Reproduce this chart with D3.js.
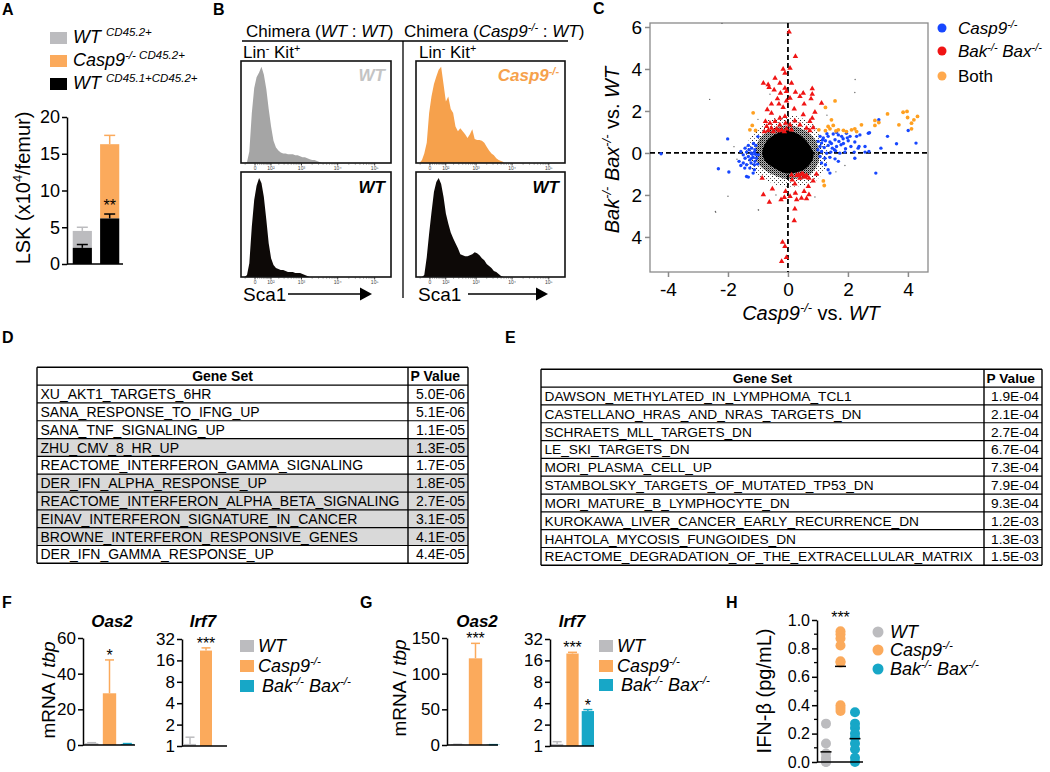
<!DOCTYPE html>
<html><head><meta charset="utf-8">
<script src="https://cdn.jsdelivr.net/npm/d3@7"></script>
<style>body{margin:0;background:#fff} svg{display:block} text{font-family:"Liberation Sans",Arial,Helvetica,sans-serif}</style>
</head><body><svg id="fig" width="1050" height="772"></svg>
<script>
// ================= DATA =================
// Panel A
const A_groups = ["WT:WT", "Casp9:WT"];
const A_ticks = [0, 5, 10, 15, 20];
const A_host = [2.2, 6.2];          // WT CD45.1+CD45.2+
const A_host_err = [0.45, 0.6];
const A_donor = [2.3, 10.1];        // donor CD45.2+ (WT / Casp9-/-)
const A_donor_err = [0.5, 1.2];
// Panel B (Sca1 histograms, % of max per bin)
const B_bins = [-72,-54,-38,-25,-13,-3,6,17,29,43,60,79,101,127,158,193,233,281,336,399,474,560,660,776,911,1068,1251,1463,1709,1995,2327,2714,3162,3684,4289,4993,5810];
const B_wt_donor    = [0,0,1,12,52,78,89,94,100,92,77,56,38,23,16,13,11,10,10,9,9,9,8,8,7,6,6,5,4,3,3,2,1,0,0,0,0];
const B_wt_host     = [0,0,2,14,51,78,92,100,95,81,58,34,19,12,9,8,7,7,6,5,5,5,4,4,4,3,2,1,0,0,0,0,0,0,0,0,0];
const B_casp9_donor = [0,0,3,10,21,52,69,82,90,97,100,82,64,69,56,52,38,33,36,33,30,26,30,35,25,24,24,23,21,17,13,10,8,5,3,2,1];
const B_casp9_host  = [0,0,0,2,20,44,65,86,96,100,94,81,64,54,45,39,34,29,23,22,21,21,22,23,25,24,22,19,17,13,11,9,6,5,3,1,0];
const B_ticks = [0, 100, 1000, 10000, 100000];
const B_tick_labels = ["0", "10\u00B2", "10\u00B3", "10\u2074", "10\u2075"];
// Panel C (log2 fold changes)
const C_xticks = [-4, -2, 0, 2, 4];
const C_yticks = [-4, -2, 0, 2, 4, 6];
const C_casp9 = [[-2.01,0.67],[-1.00,0.78],[-1.15,0.45],[-1.32,0.36],[-1.07,0.36],[-1.21,0.23],[-1.10,0.15],[-1.30,0.15],[-1.38,0.04],[-1.23,0.0],[-1.08,-0.06],[-1.57,0.07],[-1.49,-0.09],[-1.32,-0.17],[-1.16,-0.21],[-1.05,-0.25],[-1.63,-0.40],[-1.49,-0.48],[-1.38,-0.56],[-1.23,-0.48],[-1.12,-0.56],[-1.01,-0.53],[-1.27,-0.72],[-1.12,-0.80],[-1.57,-0.60],[-1.44,-0.72],[-1.38,-1.12],[-1.32,-1.15],[-1.16,-0.96],[-2.32,-0.75],[-1.97,-0.91],[-4.23,-0.04],[-1.21,-0.25],[-1.19,-0.06],[-1.43,-0.25],[-1.27,-0.33],[-1.10,-0.40],[-0.99,-0.09],[-1.12,0.04],[-1.43,0.23],
 [1.07,0.79],[1.18,0.71],[1.34,0.79],[1.51,0.90],[1.68,0.86],[1.79,0.79],[1.95,0.94],[2.07,0.79],[2.29,0.79],[2.40,0.86],[2.68,0.94],[1.01,0.55],[1.12,0.47],[1.25,0.58],[1.40,0.52],[1.57,0.63],[1.70,0.55],[1.84,0.68],[2.01,0.58],[2.23,0.52],[1.07,0.31],[1.21,0.26],[1.34,0.36],[1.48,0.23],[1.62,0.31],[1.77,0.39],[1.92,0.20],[2.10,0.31],[2.34,0.23],[2.57,0.31],[1.12,0.07],[1.29,-0.01],[1.43,0.04],[1.59,0.10],[1.73,-0.01],[1.90,0.04],[2.21,0.04],[2.70,0.07],[1.07,-0.17],[1.23,-0.25],[1.40,-0.21],[1.57,-0.28],[1.68,-0.40],[2.23,-0.25],[1.12,-0.48],[1.25,-0.56],[1.34,-0.80],[1.40,-0.96],[2.93,-0.96],[3.10,0.23],[3.32,0.79],[3.62,0.44],[4.27,0.47],[4.01,1.07],[3.03,1.58],[2.37,0.31],[2.57,0.04],[2.72,0.96],[1.15,0.62],[1.45,0.45],[1.85,0.45],[1.00,0.15],[1.55,0.15],[1.98,0.72],[1.30,0.92],[1.62,0.98]];
const C_bakbax = [[0.04,5.77],[0.25,4.60],[-0.16,3.99],[0.07,4.04],[-0.10,3.80],[-0.43,3.56],[-0.27,3.33],[-0.82,3.33],[-0.66,3.25],[-0.63,3.12],[-0.10,3.09],[-0.46,3.00],[-0.25,2.85],[-0.05,2.93],[-0.35,2.58],[-0.05,2.48],[-0.55,2.33],[-0.30,2.33],[-0.69,2.06],[-0.16,2.17],[-0.55,1.90],[-0.10,1.74],[-0.27,1.66],[-0.75,1.50],[-0.60,1.42],[-0.43,1.50],[-0.27,1.34],[-0.08,1.42],[-0.71,1.26],[-0.55,1.18],[-0.38,1.15],[-0.21,1.10],[-0.05,1.15],[-0.66,1.06],[-0.49,1.02],[-0.30,1.06],[-0.12,1.02],[-0.79,1.02],
 [0.12,3.33],[0.25,2.90],[0.51,2.85],[0.81,3.06],[0.81,2.80],[0.40,2.69],[0.77,2.58],[0.07,2.61],[0.54,2.33],[1.12,2.37],[0.21,2.10],[0.90,1.94],[0.51,1.82],[0.81,1.66],[0.73,1.50],[0.23,1.53],[0.40,1.34],[0.62,1.18],[0.84,1.21],[0.12,1.10],[0.73,1.06],[0.07,1.34],
 [-0.86,-1.20],[-0.52,-1.71],[-0.82,-1.99],[-0.62,-2.34],[-0.23,-2.23],[-0.12,-2.12],[-0.08,-1.83],[-0.18,-4.25],[-0.10,-4.45],[-0.05,-4.98],[-0.21,-5.17],[0.12,-1.04],[0.29,-1.07],[0.45,-1.01],[0.62,-1.07],[0.40,-1.20],[0.54,-1.12],[0.70,-1.20],[0.84,-1.33],[0.23,-1.48],[0.68,-1.59],[0.54,-1.83],[0.25,-1.91],[0.70,-1.99],[0.45,-2.15],[0.29,-2.23],[0.07,-2.07],[0.62,-2.18],[0.23,-2.66],[0.21,-3.23],[0.95,-1.01],[0.14,-1.28],[0.36,-1.05],[0.50,-1.00],[0.58,-1.15]];
const C_both = [[-1.16,1.91],[-1.27,1.10],[-1.19,1.31],[-1.08,1.07],[1.57,2.48],[1.25,2.17],[1.45,1.58],[1.34,1.26],[1.51,1.31],[1.40,1.15],[1.68,1.10],[1.25,1.06],[1.03,1.10],[2.12,1.10],[2.23,1.15],[2.29,1.02],[2.45,1.34],[2.90,1.55],[2.90,1.31],[3.03,1.45],[3.32,1.86],[3.70,1.34],[3.84,1.94],[3.97,1.98],[3.99,1.69],[4.12,1.42],[4.12,1.15],[4.20,1.58],[4.32,1.74],[1.18,-1.33],[1.21,-1.55],[1.60,1.05],[1.85,1.08],[1.95,1.02]];
const C_other = [[-2.61,2.55],[2.24,3.5],[2.23,2.88],[-2.0,-2.06],[-2.42,-2.79],[-0.98,-2.72],[-2.2,6.17],[-2.41,-2.82],[-0.99,-2.71],[-1.8,0.3],[1.9,-0.6],[-0.6,2.8],[0.5,2.9],[1.3,1.8],[-1.0,1.6],[0.9,-2.1],[-0.4,-2.0],[1.6,-0.9],[-1.7,-0.3],[0.2,-1.9]];
// outlines of the dense cloud of all other genes (core / dense halo / sparse halo)
const C_core  = [[-0.85,0.1],[-0.68,0.62],[-0.33,0.95],[0.05,1.05],[0.4,0.85],[0.68,0.45],[0.85,0.0],[0.8,-0.4],[0.56,-0.78],[0.22,-0.95],[-0.12,-0.95],[-0.5,-0.68],[-0.78,-0.35]];
const C_dense = [[-1.1,0.15],[-0.9,0.75],[-0.48,1.18],[0.05,1.32],[0.55,1.08],[0.9,0.65],[1.05,0.05],[1.0,-0.5],[0.75,-1.0],[0.32,-1.22],[-0.15,-1.22],[-0.68,-0.9],[-1.0,-0.48]];
const C_sparse= [[-1.4,0.2],[-1.15,0.95],[-0.6,1.6],[0.1,1.8],[0.7,1.5],[1.1,0.9],[1.35,0.1],[1.25,-0.7],[0.9,-1.35],[0.3,-1.6],[-0.3,-1.55],[-0.9,-1.15],[-1.3,-0.6]];
// Panels D, E
const D_sets = ["XU_AKT1_TARGETS_6HR","SANA_RESPONSE_TO_IFNG_UP","SANA_TNF_SIGNALING_UP","ZHU_CMV_8_HR_UP","REACTOME_INTERFERON_GAMMA_SIGNALING","DER_IFN_ALPHA_RESPONSE_UP","REACTOME_INTERFERON_ALPHA_BETA_SIGNALING","EINAV_INTERFERON_SIGNATURE_IN_CANCER","BROWNE_INTERFERON_RESPONSIVE_GENES","DER_IFN_GAMMA_RESPONSE_UP"];
const D_p = ["5.0E-06","5.1E-06","1.1E-05","1.3E-05","1.7E-05","1.8E-05","2.7E-05","3.1E-05","4.1E-05","4.4E-05"];
const D_shaded = [0,0,0,1,0,1,1,1,1,0];
const E_sets = ["DAWSON_METHYLATED_IN_LYMPHOMA_TCL1","CASTELLANO_HRAS_AND_NRAS_TARGETS_DN","SCHRAETS_MLL_TARGETS_DN","LE_SKI_TARGETS_DN","MORI_PLASMA_CELL_UP","STAMBOLSKY_TARGETS_OF_MUTATED_TP53_DN","MORI_MATURE_B_LYMPHOCYTE_DN","KUROKAWA_LIVER_CANCER_EARLY_RECURRENCE_DN","HAHTOLA_MYCOSIS_FUNGOIDES_DN","REACTOME_DEGRADATION_OF_THE_EXTRACELLULAR_MATRIX"];
const E_p = ["1.9E-04","2.1E-04","2.7E-04","6.7E-04","7.3E-04","7.9E-04","9.3E-04","1.2E-03","1.3E-03","1.5E-03"];
const E_shaded = [0,0,0,0,0,0,0,0,0,0];
// Panels F, G, H
const genotypes = ["WT", "Casp9-/-", "Bak-/- Bax-/-"];
const oas2_ticksF = [0, 20, 40, 60];
const oas2_ticksG = [0, 50, 100, 150];
const irf7_ticks = [1, 2, 4, 8, 16, 32];
const F_oas2 = [1.0, 29, 0.6];   const F_oas2_err = [0.3, 18.7, 0.2];
const F_irf7 = [1.07, 22, 1];    const F_irf7_err = [0.26, 2, 0];
const G_oas2 = [0.8, 121.5, 0.4]; const G_oas2_err = [0.2, 21, 0.1];
const G_irf7 = [1.07, 20, 3.1];  const G_irf7_err = [0.08, 0.8, 0.15];
const H_ticks = [0, 0.2, 0.4, 0.6, 0.8, 1.0];
const H_wt    = [0.27, 0.13, 0.06, 0.03, 0.01, 0.0, 0.0];
const H_casp9 = [0.92, 0.90, 0.87, 0.82, 0.71, 0.70, 0.40, 0.38, 0.36];
const H_bak   = [0.35, 0.27, 0.24, 0.20, 0.17, 0.13, 0.09, 0.03, 0.0];

// ================= DRAWING =================
const FONT = '"Liberation Sans", Arial, Helvetica, sans-serif';
const GRAY = '#bcbcbf', ORANGE = '#fbaa5c', TEAL = '#17a7c7';
const GCOL = [GRAY, ORANGE, TEAL];
const svg = d3.select('#fig');
const defs = svg.append('defs');

function rich(parent, x, y, parts, size, attrs) {
  const t = parent.append('text').attr('x', x).attr('y', y).attr('font-size', size);
  Object.entries(attrs || {}).forEach(([k, v]) => t.attr(k, v));
  let shift = 0;
  parts.forEach(p => {
    const s = (typeof p === 'string') ? {t: p} : p;
    const ts = t.append('tspan').text(s.t);
    const target = s.sup ? -size * 0.38 : 0;
    if (target !== shift) ts.attr('dy', target - shift);
    shift = target;
    if (s.sup) ts.attr('font-size', size * 0.64);
    if (s.it) ts.attr('font-style', 'italic');
    if (s.b) ts.attr('font-weight', 'bold');
  });
  return t;
}
function styleAxis(g, fs, col) {
  col = col || '#000';
  g.attr('font-family', FONT).attr('font-size', fs);
  g.selectAll('path.domain').attr('stroke', col).attr('stroke-width', 1.5);
  g.selectAll('.tick line').attr('stroke', col).attr('stroke-width', 1.5);
  g.selectAll('.tick text').attr('fill', '#000');
}
function genoParts(name) {
  if (name === 'WT') return [{t: 'WT', it: 1}];
  if (name === 'Casp9-/-') return [{t: 'Casp9', it: 1}, {t: '-/-', sup: 1, it: 1}];
  return [{t: 'Bak', it: 1}, {t: '-/-', sup: 1, it: 1}, {t: ' Bax', it: 1}, {t: '-/-', sup: 1, it: 1}];
}
// panel letters
[['A',2,15],['B',213,15],['C',593,14],['D',2,343],['E',505,343],['F',2,608],['G',360,608],['H',726,608]]
  .forEach(([l,x,y]) => svg.append('text').attr('x',x).attr('y',y).attr('font-size',16).attr('font-weight','bold').text(l));

// ---------- Panel A ----------
{
  const g = svg.append('g');
  const y = d3.scaleLinear().domain([0, 20]).range([264, 117]);
  const x = d3.scaleBand().domain(A_groups).range([70, 122]).paddingInner(0.3).paddingOuter(0.1);
  const donorCol = [GRAY, ORANGE];
  A_groups.forEach((k, i) => {
    const x0 = x(k), bw = x.bandwidth(), cx = x0 + bw / 2;
    const top = A_host[i] + A_donor[i];
    g.append('rect').attr('x', x0).attr('width', bw).attr('y', y(top)).attr('height', y(A_host[i]) - y(top)).attr('fill', donorCol[i]);
    g.append('rect').attr('x', x0).attr('width', bw).attr('y', y(A_host[i])).attr('height', y(0) - y(A_host[i])).attr('fill', '#000');
    [[top, A_donor_err[i], donorCol[i]], [A_host[i], A_host_err[i], '#000']].forEach(([v, e, c]) => {
      g.append('line').attr('x1', cx).attr('x2', cx).attr('y1', y(v)).attr('y2', y(v + e)).attr('stroke', c).attr('stroke-width', 1.5);
      g.append('line').attr('x1', cx - 5.5).attr('x2', cx + 5.5).attr('y1', y(v + e)).attr('y2', y(v + e)).attr('stroke', c).attr('stroke-width', 1.5);
    });
  });
  const i2 = 1, cx2 = x(A_groups[i2]) + x.bandwidth() / 2;
  g.append('text').attr('x', cx2).attr('y', y(A_host[i2] + A_host_err[i2]) - 3).attr('text-anchor', 'middle').attr('font-size', 16).text('**');
  g.append('g').attr('transform', 'translate(67,0)').call(d3.axisLeft(y).tickValues(A_ticks).tickSize(5).tickPadding(2).tickSizeOuter(0)).call(styleAxis, 18);
  g.append('line').attr('x1', 67).attr('x2', 123).attr('y1', y(0)).attr('y2', y(0)).attr('stroke', '#000').attr('stroke-width', 1.5);
  rich(g, 30, 188, ['LSK (x10', {t: '4', sup: 1}, '/femur)'], 20, {'text-anchor': 'middle', transform: 'rotate(-90,30,188)'});
  const leg = [
    {c: GRAY, parts: [{t: 'WT', it: 1}, ' ', {t: 'CD45.2+', sup: 1, it: 1}]},
    {c: ORANGE, parts: [{t: 'Casp9', it: 1}, {t: '-/-', sup: 1, it: 1}, {t: ' CD45.2+', sup: 1, it: 1}]},
    {c: '#000', parts: [{t: 'WT', it: 1}, ' ', {t: 'CD45.1+CD45.2+', sup: 1, it: 1}]}];
  leg.forEach((d, i) => {
    const by = 43 + i * 23;
    g.append('rect').attr('x', 50).attr('y', by - 11).attr('width', 17).attr('height', 12).attr('fill', d.c);
    rich(g, 73, by, d.parts, 18);
  });
}

// ---------- Panel B ----------
{
  const g = svg.append('g');
  const cols = [{x0: 241, x1: 391}, {x0: 416, x1: 565}];
  const rows = [{top: 61, bot: 163}, {top: 172, bot: 277}];
  const hists = [
    {c: 0, r: 0, vals: B_wt_donor, fill: '#a5a5a5', lab: [{t: 'WT', it: 1, b: 1}], lc: '#c4c4c4'},
    {c: 1, r: 0, vals: B_casp9_donor, fill: '#f6a14c', lab: [{t: 'Casp9', it: 1, b: 1}, {t: '-/-', sup: 1, it: 1, b: 1}], lc: '#f6a14c'},
    {c: 0, r: 1, vals: B_wt_host, fill: '#0d0907', lab: [{t: 'WT', it: 1, b: 1}], lc: '#000'},
    {c: 1, r: 1, vals: B_casp9_host, fill: '#0d0907', lab: [{t: 'WT', it: 1, b: 1}], lc: '#000'}];
  hists.forEach((h, k) => {
    const C = cols[h.c], R = rows[h.r];
    const xs = d3.scaleSymlog().constant(59).domain([-82, 275800]).range([C.x0, C.x1]);
    const ys = d3.scaleLinear().domain([0, 106]).range([R.bot, R.top]);
    defs.append('clipPath').attr('id', 'bclip' + k).append('rect').attr('x', C.x0).attr('y', R.top).attr('width', C.x1 - C.x0).attr('height', R.bot - R.top);
    const area = d3.area().x(d => xs(d[0])).y0(R.bot).y1(d => ys(d[1]));
    g.append('path').datum(B_bins.map((b, i) => [b, h.vals[i]])).attr('d', area).attr('fill', h.fill).attr('clip-path', 'url(#bclip' + k + ')');
    g.append('rect').attr('x', C.x0).attr('y', R.top).attr('width', C.x1 - C.x0).attr('height', R.bot - R.top).attr('fill', 'none').attr('stroke', '#111').attr('stroke-width', 1.6);
    const minors = [];
    [10, 100, 1000, 10000].forEach(p => { for (let m = 2; m <= 9; m++) minors.push(m * p); });
    minors.push(-50, 10);
    minors.forEach(v => g.append('line').attr('x1', xs(v)).attr('x2', xs(v)).attr('y1', R.bot).attr('y2', R.bot + 1.5).attr('stroke', '#333').attr('stroke-width', 0.7));
    B_ticks.forEach((v, i) => {
      g.append('line').attr('x1', xs(v)).attr('x2', xs(v)).attr('y1', R.bot).attr('y2', R.bot + 2.5).attr('stroke', '#222').attr('stroke-width', 0.9);
      g.append('text').attr('x', xs(v)).attr('y', R.bot + 7).attr('text-anchor', 'middle').attr('font-size', 5).attr('fill', '#444').text(B_tick_labels[i]);
    });
    rich(g, C.x1 - 6, R.top + (h.r === 0 ? 20 : 21), h.lab, 17, {'text-anchor': 'end', fill: h.lc});
  });
  rich(g, 246, 37, ['Chimera (', {t: 'WT', it: 1}, ' : ', {t: 'WT', it: 1}, ')'], 17);
  rich(g, 404, 37, ['Chimera (', {t: 'Casp9', it: 1}, {t: '-/-', sup: 1, it: 1}, ' : ', {t: 'WT', it: 1}, ')'], 17);
  g.append('line').attr('x1', 242).attr('x2', 568).attr('y1', 41).attr('y2', 41).attr('stroke', '#000').attr('stroke-width', 1.3);
  g.append('line').attr('x1', 403).attr('x2', 403).attr('y1', 41).attr('y2', 298).attr('stroke', '#000').attr('stroke-width', 1.3);
  [243, 419].forEach(x => rich(g, x, 58, ['Lin', {t: '-', sup: 1}, ' Kit', {t: '+', sup: 1}], 17));
  [[243, 288, 372], [418, 468, 548]].forEach(([tx, a0, a1]) => {
    g.append('text').attr('x', tx).attr('y', 301).attr('font-size', 19).text('Sca1');
    g.append('line').attr('x1', a0).attr('x2', a1 - 10).attr('y1', 294).attr('y2', 294).attr('stroke', '#000').attr('stroke-width', 1.5);
    g.append('path').attr('d', `M${a1 - 12},287.5 L${a1},294 L${a1 - 12},300.5 Z`).attr('fill', '#000');
  });
}

// ---------- Panel C ----------
{
  const g = svg.append('g');
  const x = d3.scaleLinear().domain([-4.6, 4.67]).range([650, 928]);
  const y = d3.scaleLinear().domain([-5.67, 6.19]).range([272, 23]);
  const p1 = defs.append('pattern').attr('id', 'spkSparse').attr('width', 4).attr('height', 4).attr('patternUnits', 'userSpaceOnUse');
  p1.append('rect').attr('x', 0).attr('y', 0).attr('width', 1).attr('height', 1).attr('fill', '#222');
  p1.append('rect').attr('x', 2).attr('y', 2).attr('width', 0.9).attr('height', 0.9).attr('fill', '#444');
  const p2 = defs.append('pattern').attr('id', 'spkDense').attr('width', 2).attr('height', 2).attr('patternUnits', 'userSpaceOnUse');
  p2.append('rect').attr('x', 0).attr('y', 0).attr('width', 1.3).attr('height', 1.3).attr('fill', '#000');
  p2.append('rect').attr('x', 1).attr('y', 1).attr('width', 0.8).attr('height', 0.8).attr('fill', '#222');
  g.append('rect').attr('x', 650).attr('y', 23).attr('width', 278).attr('height', 249).attr('fill', 'none').attr('stroke', '#8a8a8a').attr('stroke-width', 1.3);
  const line = d3.line().x(d => x(d[0])).y(d => y(d[1])).curve(d3.curveCardinalClosed.tension(0.1));
  g.append('path').attr('d', line(C_sparse)).attr('fill', 'url(#spkSparse)');
  g.append('path').attr('d', line(C_dense)).attr('fill', 'url(#spkDense)');
  g.append('path').attr('d', line(C_core)).attr('fill', '#000');
  g.selectAll('.oth').data(C_other).join('circle').attr('cx', d => x(d[0])).attr('cy', d => y(d[1])).attr('r', 0.7).attr('fill', '#666');
  g.append('line').attr('x1', 650).attr('x2', 928).attr('y1', y(0)).attr('y2', y(0)).attr('stroke', '#000').attr('stroke-width', 1.8).attr('stroke-dasharray', '5,3');
  g.append('line').attr('x1', x(0)).attr('x2', x(0)).attr('y1', 23).attr('y2', 272).attr('stroke', '#000').attr('stroke-width', 1.8).attr('stroke-dasharray', '5,3');
  g.selectAll('.blue').data(C_casp9).join('circle').attr('cx', d => x(d[0])).attr('cy', d => y(d[1])).attr('r', 1.7).attr('fill', '#1747ff');
  const tri = d3.symbol(d3.symbolTriangle, 13);
  g.selectAll('.red').data(C_bakbax).join('path').attr('d', tri).attr('transform', d => `translate(${x(d[0])},${y(d[1])})`).attr('fill', '#f01414');
  g.selectAll('.both').data(C_both).join('circle').attr('cx', d => x(d[0])).attr('cy', d => y(d[1])).attr('r', 1.9).attr('fill', '#ffa020');
  const ax = g.append('g').attr('transform', 'translate(650,0)').call(d3.axisLeft(y).tickValues(C_yticks).tickFormat(d => String(Math.abs(d))).tickSize(5).tickPadding(3));
  ax.call(styleAxis, 19, '#8a8a8a'); ax.select('.domain').remove();
  const bx = g.append('g').attr('transform', 'translate(0,272)').call(d3.axisBottom(x).tickValues(C_xticks).tickFormat(d => String(d)).tickSize(5).tickPadding(6));
  bx.call(styleAxis, 19, '#8a8a8a'); bx.select('.domain').remove();
  rich(g, 619, 150, [{t: 'Bak', it: 1}, {t: '-/-', sup: 1, it: 1}, {t: ' Bax', it: 1}, {t: '-/-', sup: 1, it: 1}, ' vs. ', {t: 'WT', it: 1}], 20, {'text-anchor': 'middle', transform: 'rotate(-90,619,150)'});
  rich(g, 811, 320, [{t: 'Casp9', it: 1}, {t: '-/-', sup: 1, it: 1}, ' vs. ', {t: 'WT', it: 1}], 20, {'text-anchor': 'middle'});
  const leg = [{c: '#1747ff', p: genoParts('Casp9-/-')}, {c: '#f01414', p: genoParts('Bak-/- Bax-/-')}, {c: '#ffa94d', p: ['Both']}];
  leg.forEach((d, i) => {
    const cy = [28, 51, 76][i];
    g.append('circle').attr('cx', 942).attr('cy', cy).attr('r', 4.5).attr('fill', d.c);
    rich(g, 958, cy + 6, d.p, 17);
  });
}

// ---------- Panels D, E ----------
function table(x0, x1, xdiv, y0, y1, sets, pvals, shaded, fs) {
  const g = svg.append('g');
  const n = sets.length + 1;
  const yb = d3.scaleBand().domain(d3.range(n)).range([y0, y1]);
  const rh = yb.bandwidth();
  sets.forEach((s, i) => {
    if (shaded[i]) g.append('rect').attr('x', x0).attr('y', yb(i + 1)).attr('width', x1 - x0).attr('height', rh).attr('fill', '#d9d9d9');
  });
  const base = i => yb(i) + rh / 2 + fs * 0.36;
  g.append('text').attr('x', (x0 + xdiv) / 2).attr('y', base(0)).attr('text-anchor', 'middle').attr('font-weight', 'bold').attr('font-size', fs).text('Gene Set');
  g.append('text').attr('x', xdiv + 2.5).attr('y', base(0)).attr('font-weight', 'bold').attr('font-size', fs).text('P Value');
  sets.forEach((s, i) => {
    g.append('text').attr('x', x0 + 3.5).attr('y', base(i + 1)).attr('font-size', fs).text(s);
    g.append('text').attr('x', x1 - 3).attr('y', base(i + 1)).attr('text-anchor', 'end').attr('font-size', fs).text(pvals[i]);
  });
  d3.range(n + 1).forEach(i => {
    const yy = i < n ? yb(i) : y1;
    g.append('line').attr('x1', x0).attr('x2', x1).attr('y1', yy).attr('y2', yy).attr('stroke', '#000').attr('stroke-width', (i === 0 || i === n) ? 1.5 : 1.2);
  });
  [x0, xdiv, x1].forEach(xx => g.append('line').attr('x1', xx).attr('x2', xx).attr('y1', y0).attr('y2', y1).attr('stroke', '#000').attr('stroke-width', 1.4));
}
table(37, 468, 408, 367.3, 563.3, D_sets, D_p, D_shaded, 14);
table(541, 1042, 984, 369.3, 565.3, E_sets, E_p, E_shaded, 13.7);

// ---------- Panels F, G ----------
function barPlot(o) {
  const g = svg.append('g');
  const x = d3.scaleBand().domain(genotypes).range(o.band).paddingInner(o.pad).paddingOuter(0);
  const y = o.y;
  const base = y.domain()[0];
  genotypes.forEach((k, i) => {
    const v = o.vals[i], e = o.errs[i], x0 = x(k), bw = x.bandwidth(), cx = x0 + bw / 2;
    if (v > base) g.append('rect').attr('x', x0).attr('width', bw).attr('y', y(v)).attr('height', y(base) - y(v)).attr('fill', GCOL[i]);
    if (e > 0) {
      g.append('line').attr('x1', cx).attr('x2', cx).attr('y1', y(v)).attr('y2', y(v + e)).attr('stroke', GCOL[i]).attr('stroke-width', 1.5);
      g.append('line').attr('x1', cx - 4.5).attr('x2', cx + 4.5).attr('y1', y(v + e)).attr('y2', y(v + e)).attr('stroke', GCOL[i]).attr('stroke-width', 1.5);
    }
    if (o.stars[i]) g.append('text').attr('x', cx).attr('y', y(v + e) + 1).attr('text-anchor', 'middle').attr('font-size', 16).text(o.stars[i]);
  });
  g.append('g').attr('transform', `translate(${o.ax},0)`).call(d3.axisLeft(y).tickValues(o.ticks).tickFormat(d3.format('d')).tickSize(5).tickPadding(2).tickSizeOuter(0)).call(styleAxis, 17);
  g.append('line').attr('x1', o.ax).attr('x2', o.xend).attr('y1', y(base)).attr('y2', y(base)).attr('stroke', '#000').attr('stroke-width', 1.5);
  g.append('text').attr('x', o.tx).attr('y', 627).attr('text-anchor', 'middle').attr('font-size', 17).attr('font-weight', 'bold').attr('font-style', 'italic').text(o.title);
}
function barLegend(x, ys) {
  const g = svg.append('g');
  genotypes.forEach((k, i) => {
    g.append('rect').attr('x', x).attr('y', ys[i]).attr('width', 14).attr('height', 12).attr('fill', GCOL[i]);
    rich(g, x + 18 + (i === 2 ? 4 : 0), ys[i] + 12, genoParts(k), 18);
  });
}
barPlot({y: d3.scaleLinear().domain([0, 60]).range([745, 638]), ticks: oas2_ticksF, band: [85, 134], pad: 0.25, ax: 83, xend: 135, vals: F_oas2, errs: F_oas2_err, stars: ['', '*', ''], title: 'Oas2', tx: 112});
barPlot({y: d3.scaleLog().base(2).domain([1, 32]).range([746, 639]), ticks: irf7_ticks, band: [184, 228], pad: 0.25, ax: 182, xend: 227, vals: F_irf7, errs: F_irf7_err, stars: ['', '***', ''], title: 'Irf7', tx: 203});
barLegend(240, [640, 660, 680]);
rich(svg, 55, 690, ['mRNA / ', {t: 'tbp', it: 1}], 19, {'text-anchor': 'middle', transform: 'rotate(-90,55,690)'});
barPlot({y: d3.scaleLinear().domain([0, 150]).range([745, 638]), ticks: oas2_ticksG, band: [451, 500], pad: 0.25, ax: 447, xend: 498, vals: G_oas2, errs: G_oas2_err, stars: ['', '***', ''], title: 'Oas2', tx: 477});
barPlot({y: d3.scaleLog().base(2).domain([1, 32]).range([746, 639]), ticks: irf7_ticks, band: [551, 594], pad: 0.2, ax: 550, xend: 594, vals: G_irf7, errs: G_irf7_err, stars: ['', '***', '*'], title: 'Irf7', tx: 572});
barLegend(599, [640, 660, 679]);
rich(svg, 406, 688, ['mRNA / ', {t: 'tbp', it: 1}], 19, {'text-anchor': 'middle', transform: 'rotate(-90,406,688)'});

// ---------- Panel H ----------
{
  const g = svg.append('g');
  const y = d3.scaleLinear().domain([0, 1]).range([762, 620]);
  const x = d3.scalePoint().domain(genotypes).range([826, 855]);
  const groups = [H_wt, H_casp9, H_bak];
  groups.forEach((arr, i) => {
    const cx = x(genotypes[i]);
    arr.forEach(v => g.append('circle').attr('cx', cx).attr('cy', y(v)).attr('r', 5).attr('fill', GCOL[i]));
    const m = d3.mean(arr);
    g.append('line').attr('x1', cx - 5.5).attr('x2', cx + 5.5).attr('y1', y(m)).attr('y2', y(m)).attr('stroke', '#000').attr('stroke-width', 1.5);
  });
  g.append('text').attr('x', x(genotypes[1])).attr('y', y(1.0) + 3).attr('text-anchor', 'middle').attr('font-size', 16).text('***');
  g.append('g').attr('transform', 'translate(817,0)').call(d3.axisLeft(y).tickValues(H_ticks).tickFormat(d3.format('.1f')).tickSize(5).tickPadding(2).tickSizeOuter(0)).call(styleAxis, 16);
  d3.range(0.1, 1, 0.2).forEach(v => g.append('line').attr('x1', 814).attr('x2', 817).attr('y1', y(v)).attr('y2', y(v)).attr('stroke', '#000').attr('stroke-width', 1.3));
  g.append('line').attr('x1', 817).attr('x2', 863).attr('y1', y(0)).attr('y2', y(0)).attr('stroke', '#000').attr('stroke-width', 1.5);
  rich(g, 771, 691, ['IFN-\u03B2 (pg/mL)'], 20, {'text-anchor': 'middle', transform: 'rotate(-90,771,691)'});
  genotypes.forEach((k, i) => {
    const cy = [632, 650, 669][i];
    g.append('circle').attr('cx', 878).attr('cy', cy).attr('r', 5.5).attr('fill', GCOL[i]);
    rich(g, 890, cy + 6, genoParts(k), 18);
  });
}
</script></body></html>
